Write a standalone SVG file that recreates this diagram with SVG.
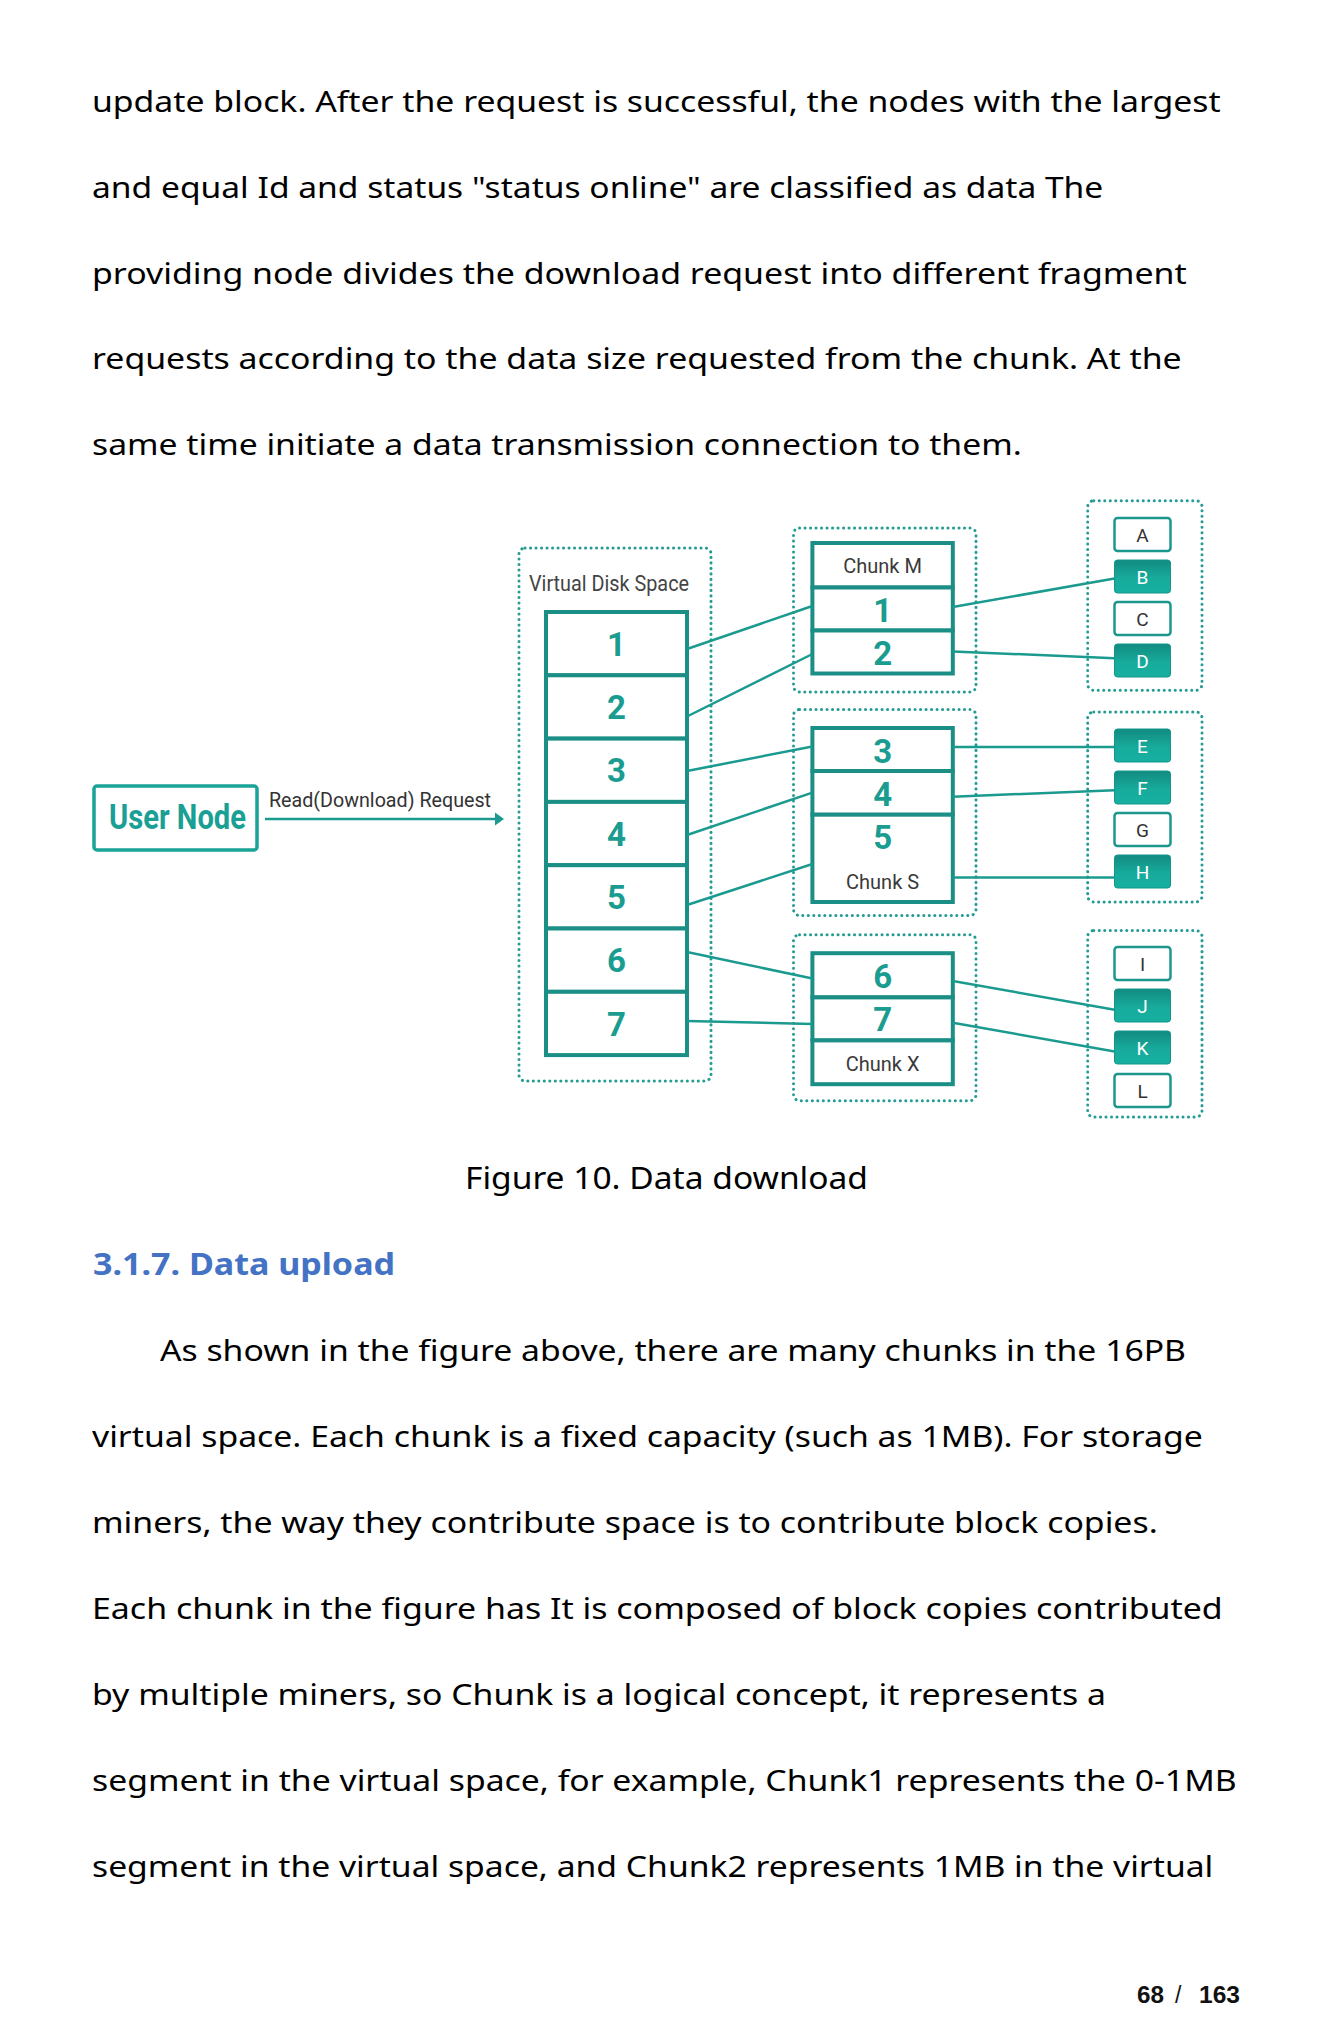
<svg xmlns="http://www.w3.org/2000/svg" width="1332" height="2041" viewBox="0 0 1332 2041">
<style>
.body{font-family:"Noto Sans","Open Sans","Liberation Sans",sans-serif;font-size:29px;fill:#000}
.cap{font-family:"Noto Sans","Open Sans","Liberation Sans",sans-serif;font-size:31px;fill:#000}
.head{font-family:"Noto Sans","Open Sans","Liberation Sans",sans-serif;font-size:31px;font-weight:bold;fill:#4472C4}
.pg{font-family:"Liberation Sans",Arial,sans-serif;font-size:23px;fill:#111}
.dot{fill:none;stroke:#249c93;stroke-width:3;stroke-dasharray:0.1 5.4;stroke-linecap:round}
.cell{fill:#fff;stroke:#1b8f86;stroke-width:4}
.num{font-family:Roboto,"Liberation Sans",sans-serif;font-size:33px;font-weight:bold;fill:#1a9c91;text-anchor:middle}
.lbl{font-family:Roboto,"Liberation Sans",sans-serif;font-size:20px;fill:#3a3a3a;text-anchor:middle}
.box{fill:#fff;stroke:#1c978d;stroke-width:2.5}
.fbox{fill:url(#tg);stroke:#13968b;stroke-width:1}
.let{font-family:Roboto,"Liberation Sans",sans-serif;font-size:19px;fill:#333;text-anchor:middle}
.letw{font-family:Roboto,"Liberation Sans",sans-serif;font-size:19px;fill:#fff;text-anchor:middle}
.con{stroke:#1b9a8f;stroke-width:2.5;fill:none}
</style>
<defs>
<linearGradient id="tg" x1="0" y1="0" x2="0" y2="1">
<stop offset="0" stop-color="#128b80"/>
<stop offset="0.55" stop-color="#17ab9c"/>
<stop offset="1" stop-color="#16b0a0"/>
</linearGradient>
</defs>
<rect width="1332" height="2041" fill="#fff"/>

<g id="text-top">
<text class="body" x="92" y="111.5" textLength="1128.7" lengthAdjust="spacingAndGlyphs">update block. After the request is successful, the nodes with the largest</text>
<text class="body" x="92" y="197.5" textLength="1011.3" lengthAdjust="spacingAndGlyphs">and equal Id and status "status online" are classified as data The</text>
<text class="body" x="92" y="283.5" textLength="1094.7" lengthAdjust="spacingAndGlyphs">providing node divides the download request into different fragment</text>
<text class="body" x="92" y="369.3" textLength="1089.7" lengthAdjust="spacingAndGlyphs">requests according to the data size requested from the chunk. At the</text>
<text class="body" x="92" y="455.2" textLength="929.7" lengthAdjust="spacingAndGlyphs">same time initiate a data transmission connection to them.</text>
</g>

<g id="user-node">
<rect x="94" y="786" width="163" height="64" rx="3" fill="#fff" stroke="#1aa397" stroke-width="3.5"/>
<text x="109" y="829" font-family="Roboto,'Liberation Sans',sans-serif" font-size="35" font-weight="bold" fill="#1a9f94" textLength="137" lengthAdjust="spacingAndGlyphs">User Node</text>
</g>

<g id="virtual-disk-space">
<rect class="dot" x="519" y="548" width="192" height="533" rx="6"/>
<text x="529" y="591" font-family="Roboto,'Liberation Sans',sans-serif" font-size="22" fill="#444" textLength="160" lengthAdjust="spacingAndGlyphs">Virtual Disk Space</text>
<rect class="cell" x="546" y="612" width="141" height="63.3"/>
<rect class="cell" x="546" y="675.3" width="141" height="63.3"/>
<rect class="cell" x="546" y="738.6" width="141" height="63.3"/>
<rect class="cell" x="546" y="801.9" width="141" height="63.3"/>
<rect class="cell" x="546" y="865.2" width="141" height="63.3"/>
<rect class="cell" x="546" y="928.5" width="141" height="63.3"/>
<rect class="cell" x="546" y="991.8" width="141" height="63.3"/>
<text class="num" x="616.5" y="655.7">1</text>
<text class="num" x="616.5" y="719">2</text>
<text class="num" x="616.5" y="782.3">3</text>
<text class="num" x="616.5" y="845.6">4</text>
<text class="num" x="616.5" y="908.9">5</text>
<text class="num" x="616.5" y="972.2">6</text>
<text class="num" x="616.5" y="1035.5">7</text>
</g>

<g id="chunk-m">
<rect class="dot" x="793.5" y="528" width="182.5" height="164" rx="6"/>
<rect class="cell" x="812.4" y="543" width="140.4" height="44.5"/>
<rect class="cell" x="812.4" y="587.5" width="140.4" height="43"/>
<rect class="cell" x="812.4" y="630.5" width="140.4" height="43"/>
<text class="lbl" x="882.6" y="573">Chunk M</text>
<text class="num" x="882.6" y="621.5">1</text>
<text class="num" x="882.6" y="664.5">2</text>
</g>

<g id="chunk-s">
<rect class="dot" x="793.5" y="709.5" width="182.5" height="206" rx="6"/>
<rect class="cell" x="812.4" y="728" width="140.4" height="43"/>
<rect class="cell" x="812.4" y="771" width="140.4" height="43.7"/>
<rect class="cell" x="812.4" y="814.7" width="140.4" height="87.3"/>
<text class="num" x="882.6" y="762.7">3</text>
<text class="num" x="882.6" y="805.7">4</text>
<text class="num" x="882.6" y="848.7">5</text>
<text class="lbl" x="882.6" y="889">Chunk S</text>
</g>

<g id="chunk-x">
<rect class="dot" x="793.5" y="934.7" width="182.5" height="166" rx="6"/>
<rect class="cell" x="812.4" y="953.2" width="140.4" height="44.2"/>
<rect class="cell" x="812.4" y="997.4" width="140.4" height="43"/>
<rect class="cell" x="812.4" y="1040.4" width="140.4" height="43.8"/>
<text class="num" x="882.6" y="988">6</text>
<text class="num" x="882.6" y="1031">7</text>
<text class="lbl" x="882.6" y="1071">Chunk X</text>
</g>

<g id="miners-abcd">
<rect class="dot" x="1087.7" y="500.7" width="114.3" height="189.6" rx="6"/>
<rect class="box" x="1114.5" y="518" width="56" height="33" rx="3"/>
<rect class="fbox" x="1114.5" y="560" width="56" height="33" rx="3"/>
<rect class="box" x="1114.5" y="602" width="56" height="33" rx="3"/>
<rect class="fbox" x="1114.5" y="644" width="56" height="33" rx="3"/>
<text class="let" x="1142.5" y="541.5">A</text>
<text class="letw" x="1142.5" y="583.5">B</text>
<text class="let" x="1142.5" y="625.5">C</text>
<text class="letw" x="1142.5" y="667.5">D</text>
</g>

<g id="miners-efgh">
<rect class="dot" x="1087.7" y="712" width="114.3" height="190" rx="6"/>
<rect class="fbox" x="1114.5" y="729" width="56" height="33" rx="3"/>
<rect class="fbox" x="1114.5" y="771" width="56" height="33" rx="3"/>
<rect class="box" x="1114.5" y="813" width="56" height="33" rx="3"/>
<rect class="fbox" x="1114.5" y="855" width="56" height="33" rx="3"/>
<text class="letw" x="1142.5" y="752.5">E</text>
<text class="letw" x="1142.5" y="794.5">F</text>
<text class="let" x="1142.5" y="836.5">G</text>
<text class="letw" x="1142.5" y="878.5">H</text>
</g>

<g id="miners-ijkl">
<rect class="dot" x="1087.7" y="930.6" width="114.3" height="186.4" rx="6"/>
<rect class="box" x="1114.5" y="947" width="56" height="33" rx="3"/>
<rect class="fbox" x="1114.5" y="989" width="56" height="33" rx="3"/>
<rect class="fbox" x="1114.5" y="1031" width="56" height="33" rx="3"/>
<rect class="box" x="1114.5" y="1074" width="56" height="33" rx="3"/>
<text class="let" x="1142.5" y="970.5">I</text>
<text class="letw" x="1142.5" y="1012.5">J</text>
<text class="letw" x="1142.5" y="1054.5">K</text>
<text class="let" x="1142.5" y="1097.5">L</text>
</g>

<g id="connectors">
<line class="con" x1="265" y1="819" x2="497" y2="819" stroke-width="2.5"/>
<polygon points="504,819 495,812.5 495,825.5" fill="#1b9a8f"/>
<text x="269" y="807" font-family="Roboto,'Liberation Sans',sans-serif" font-size="21" fill="#333" textLength="222" lengthAdjust="spacingAndGlyphs">Read(Download) Request</text>
<line class="con" x1="687" y1="649" x2="812.4" y2="606"/>
<line class="con" x1="687" y1="716.5" x2="812.4" y2="654"/>
<line class="con" x1="687" y1="771" x2="812.4" y2="746.5"/>
<line class="con" x1="687" y1="835" x2="812.4" y2="792.6"/>
<line class="con" x1="687" y1="905" x2="812.4" y2="864"/>
<line class="con" x1="687" y1="952" x2="812.4" y2="978.5"/>
<line class="con" x1="687" y1="1021" x2="812.4" y2="1024"/>
<line class="con" x1="952.8" y1="607" x2="1114.5" y2="578.5"/>
<line class="con" x1="952.8" y1="651.4" x2="1114.5" y2="658.3"/>
<line class="con" x1="952.8" y1="747" x2="1114.5" y2="747"/>
<line class="con" x1="952.8" y1="796.7" x2="1114.5" y2="790.2"/>
<line class="con" x1="952.8" y1="877.4" x2="1114.5" y2="877.4"/>
<line class="con" x1="952.8" y1="981" x2="1114.5" y2="1009.7"/>
<line class="con" x1="952.8" y1="1022.8" x2="1114.5" y2="1051.4"/>
</g>

<g id="caption">
<text class="cap" x="465" y="1189" textLength="403" lengthAdjust="spacingAndGlyphs">Figure 10. Data download</text>
<text class="head" x="93" y="1275" textLength="302" lengthAdjust="spacingAndGlyphs">3.1.7. Data upload</text>
</g>

<g id="text-bottom">
<text class="body" x="160" y="1361" textLength="1026" lengthAdjust="spacingAndGlyphs">As shown in the figure above, there are many chunks in the 16PB</text>
<text class="body" x="92" y="1447" textLength="1110.7" lengthAdjust="spacingAndGlyphs">virtual space. Each chunk is a fixed capacity (such as 1MB). For storage</text>
<text class="body" x="92" y="1533" textLength="1065.7" lengthAdjust="spacingAndGlyphs">miners, the way they contribute space is to contribute block copies.</text>
<text class="body" x="92" y="1618.5" textLength="1130.7" lengthAdjust="spacingAndGlyphs">Each chunk in the figure has It is composed of block copies contributed</text>
<text class="body" x="92" y="1704.5" textLength="1014" lengthAdjust="spacingAndGlyphs">by multiple miners, so Chunk is a logical concept, it represents a</text>
<text class="body" x="92" y="1790.5" textLength="1144.7" lengthAdjust="spacingAndGlyphs">segment in the virtual space, for example, Chunk1 represents the 0-1MB</text>
<text class="body" x="92" y="1876.5" textLength="1121.3" lengthAdjust="spacingAndGlyphs">segment in the virtual space, and Chunk2 represents 1MB in the virtual</text>
</g>

<g id="page-number">
<text class="pg" x="1137" y="2003" font-weight="bold" textLength="27" lengthAdjust="spacingAndGlyphs">68</text>
<text class="pg" x="1175" y="2003" fill="#555">/</text>
<text class="pg" x="1199" y="2003" font-weight="bold" textLength="41" lengthAdjust="spacingAndGlyphs">163</text>
</g>
</svg>
